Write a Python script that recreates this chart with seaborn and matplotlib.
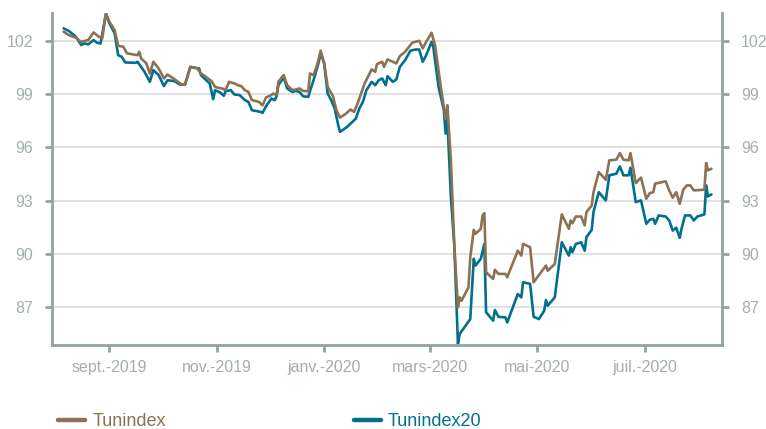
import pandas as pd
import matplotlib
matplotlib.use('Agg')
import matplotlib.pyplot as plt
import seaborn as sns

# ------------------------------------------------------------
# DATA
# ------------------------------------------------------------
tun20_dates = [
    "2019-08-06", "2019-08-09", "2019-08-13", "2019-08-16", "2019-08-18", "2019-08-20",
    "2019-08-23", "2019-08-25", "2019-08-27", "2019-08-30", "2019-09-01", "2019-09-04",
    "2019-09-06", "2019-09-08", "2019-09-10", "2019-09-16", "2019-09-17", "2019-09-19",
    "2019-09-21", "2019-09-24", "2019-09-26", "2019-09-29", "2019-10-02", "2019-10-04",
    "2019-10-08", "2019-10-11", "2019-10-14", "2019-10-17", "2019-10-22", "2019-10-23",
    "2019-10-24", "2019-10-28", "2019-10-30", "2019-10-31", "2019-11-03", "2019-11-05",
    "2019-11-06", "2019-11-09", "2019-11-11", "2019-11-14", "2019-11-17", "2019-11-19",
    "2019-11-21", "2019-11-26", "2019-11-27", "2019-11-29", "2019-12-02", "2019-12-04",
    "2019-12-05", "2019-12-06", "2019-12-09", "2019-12-11", "2019-12-14", "2019-12-16",
    "2019-12-18", "2019-12-20", "2019-12-23", "2019-12-24", "2019-12-26", "2019-12-29",
    "2019-12-30", "2020-01-01", "2020-01-03", "2020-01-05", "2020-01-07", "2020-01-09",
    "2020-01-10", "2020-01-14", "2020-01-17", "2020-01-19", "2020-01-21", "2020-01-23",
    "2020-01-25", "2020-01-28", "2020-01-30", "2020-02-01", "2020-02-03", "2020-02-05",
    "2020-02-06", "2020-02-09", "2020-02-11", "2020-02-13", "2020-02-16", "2020-02-19",
    "2020-02-22", "2020-02-24", "2020-02-26", "2020-02-28", "2020-03-02", "2020-03-03",
    "2020-03-06", "2020-03-09", "2020-03-10", "2020-03-11", "2020-03-13", "2020-03-15",
    "2020-03-17", "2020-03-18", "2020-03-24", "2020-03-26", "2020-03-27", "2020-03-30",
    "2020-04-01", "2020-04-02", "2020-04-06", "2020-04-07", "2020-04-09", "2020-04-13",
    "2020-04-14", "2020-04-20", "2020-04-22", "2020-04-23", "2020-04-27", "2020-04-29",
    "2020-05-02", "2020-05-05", "2020-05-06", "2020-05-07", "2020-05-11", "2020-05-15",
    "2020-05-19", "2020-05-20", "2020-05-21", "2020-05-23", "2020-05-26", "2020-05-28",
    "2020-05-29", "2020-06-01", "2020-06-02", "2020-06-05", "2020-06-09", "2020-06-11",
    "2020-06-15", "2020-06-17", "2020-06-19", "2020-06-22", "2020-06-23", "2020-06-26",
    "2020-06-29", "2020-07-02", "2020-07-04", "2020-07-06", "2020-07-07", "2020-07-09",
    "2020-07-13", "2020-07-15", "2020-07-17", "2020-07-19", "2020-07-21", "2020-07-22",
    "2020-07-24", "2020-07-27", "2020-07-29", "2020-07-31", "2020-08-04", "2020-08-05",
    "2020-08-06", "2020-08-08",
]
tun20_vals = [
    102.70, 102.55, 102.23, 101.76, 101.85, 101.80,
    102.04, 101.89, 101.85, 103.49, 102.98, 102.42,
    101.19, 101.10, 100.78, 100.76, 100.82, 100.53,
    100.25, 99.69, 100.35, 100.07, 99.45, 99.78,
    99.73, 99.54, 99.54, 100.53, 100.44, 100.07,
    99.97, 99.60, 98.71, 99.22, 99.09, 98.90,
    99.16, 99.22, 98.98, 98.94, 98.66, 98.56,
    98.09, 98.00, 97.94, 98.32, 98.75, 98.66,
    98.88, 99.50, 99.94, 99.32, 99.12, 99.18,
    99.12, 98.88, 98.84, 99.18, 99.78, 100.82,
    101.32, 100.73, 99.03, 98.66, 98.19, 97.25,
    96.87, 97.15, 97.43, 97.62, 98.19, 98.56,
    99.22, 99.69, 99.50, 99.78, 99.88, 99.50,
    100.01, 99.69, 99.82, 100.53, 100.91, 101.44,
    101.51, 101.51, 100.82, 101.19, 101.94, 101.66,
    99.41, 98.09, 96.78, 97.60, 93.20, 90.38,
    84.95, 85.50, 86.34, 89.73, 89.35, 89.73,
    90.57, 86.72, 86.25, 86.85, 86.47, 86.43,
    86.15, 87.75, 87.56, 88.41, 88.32, 86.47,
    86.34, 86.81, 87.41, 87.09, 87.56, 90.66,
    89.91, 90.38, 90.10, 90.57, 90.66, 90.19,
    90.95, 91.36, 92.36, 93.48, 93.02, 94.43,
    94.52, 94.93, 94.43, 94.43, 94.86, 92.92,
    93.02, 91.70, 91.93, 91.98, 91.70, 92.17,
    92.11, 91.89, 91.32, 91.48, 90.91, 91.42,
    92.17, 92.17, 91.89, 92.11, 92.23, 93.86,
    93.24, 93.35,
]

tun_dates = [
    "2019-08-06", "2019-08-09", "2019-08-13", "2019-08-16", "2019-08-20", "2019-08-23",
    "2019-08-26", "2019-08-28", "2019-08-30", "2019-09-01", "2019-09-04", "2019-09-06",
    "2019-09-09", "2019-09-11", "2019-09-17", "2019-09-18", "2019-09-19", "2019-09-22",
    "2019-09-24", "2019-09-26", "2019-09-29", "2019-10-02", "2019-10-04", "2019-10-08",
    "2019-10-12", "2019-10-14", "2019-10-17", "2019-10-21", "2019-10-23", "2019-10-25",
    "2019-10-29", "2019-10-31", "2019-11-02", "2019-11-04", "2019-11-06", "2019-11-08",
    "2019-11-11", "2019-11-13", "2019-11-15", "2019-11-17", "2019-11-19", "2019-11-21",
    "2019-11-25", "2019-11-27", "2019-11-29", "2019-12-02", "2019-12-03", "2019-12-05",
    "2019-12-06", "2019-12-09", "2019-12-11", "2019-12-14", "2019-12-16", "2019-12-18",
    "2019-12-20", "2019-12-23", "2019-12-24", "2019-12-26", "2019-12-28", "2019-12-30",
    "2020-01-01", "2020-01-03", "2020-01-06", "2020-01-08", "2020-01-10", "2020-01-13",
    "2020-01-16", "2020-01-18", "2020-01-20", "2020-01-24", "2020-01-28", "2020-01-30",
    "2020-01-31", "2020-02-03", "2020-02-04", "2020-02-06", "2020-02-09", "2020-02-11",
    "2020-02-13", "2020-02-16", "2020-02-20", "2020-02-24", "2020-02-26", "2020-02-28",
    "2020-03-02", "2020-03-04", "2020-03-07", "2020-03-10", "2020-03-11", "2020-03-13",
    "2020-03-15", "2020-03-17", "2020-03-18", "2020-03-19", "2020-03-23", "2020-03-24",
    "2020-03-26", "2020-03-27", "2020-03-30", "2020-03-31", "2020-04-01", "2020-04-02",
    "2020-04-06", "2020-04-07", "2020-04-09", "2020-04-13", "2020-04-14", "2020-04-20",
    "2020-04-22", "2020-04-23", "2020-04-27", "2020-04-29", "2020-05-04", "2020-05-06",
    "2020-05-07", "2020-05-11", "2020-05-15", "2020-05-19", "2020-05-20", "2020-05-21",
    "2020-05-23", "2020-05-26", "2020-05-28", "2020-05-29", "2020-06-01", "2020-06-02",
    "2020-06-05", "2020-06-09", "2020-06-11", "2020-06-15", "2020-06-17", "2020-06-19",
    "2020-06-22", "2020-06-23", "2020-06-26", "2020-06-29", "2020-07-02", "2020-07-04",
    "2020-07-06", "2020-07-07", "2020-07-13", "2020-07-15", "2020-07-17", "2020-07-19",
    "2020-07-21", "2020-07-23", "2020-07-25", "2020-07-27", "2020-07-29", "2020-08-04",
    "2020-08-05", "2020-08-06", "2020-08-08",
]
tun_vals = [
    102.51, 102.32, 102.17, 101.94, 102.04, 102.47,
    102.23, 102.14, 103.55, 103.07, 102.60, 101.72,
    101.66, 101.29, 101.19, 101.38, 101.01, 100.73,
    100.16, 100.82, 100.44, 99.88, 100.10, 99.84,
    99.54, 99.54, 100.53, 100.44, 100.16, 100.03,
    99.73, 99.41, 99.35, 99.32, 99.22, 99.69,
    99.60, 99.50, 99.44, 99.22, 99.12, 98.66,
    98.56, 98.37, 98.81, 98.94, 99.03, 98.94,
    99.69, 100.07, 99.50, 99.22, 99.26, 99.32,
    99.18, 99.16, 100.16, 100.07, 100.63, 101.44,
    100.76, 99.41, 98.88, 98.09, 97.68, 97.87,
    98.13, 98.00, 98.47, 99.60, 100.39, 100.25,
    100.69, 100.82, 100.53, 100.95, 100.82, 100.73,
    101.14, 101.38, 101.89, 102.00, 101.57, 101.94,
    102.45, 101.76, 99.60, 97.62, 98.37, 95.27,
    90.38, 87.00, 87.56, 87.37, 88.12, 89.82,
    91.36, 91.14, 91.42, 92.17, 92.30, 88.97,
    88.60, 89.11, 88.88, 88.88, 88.69, 90.19,
    89.91, 90.57, 90.38, 88.41, 89.08, 89.35,
    89.06, 89.44, 92.23, 91.42, 91.89, 91.73,
    92.11, 92.11, 91.61, 92.36, 92.73, 93.48,
    94.61, 94.18, 95.27, 95.31, 95.68, 95.31,
    95.27, 95.68, 93.99, 94.30, 93.11, 93.43,
    93.48, 93.96, 94.09, 93.58, 93.17, 93.48,
    92.83, 93.62, 93.86, 93.86, 93.58, 93.62,
    95.12, 94.71, 94.80,
]

series_names = ["Tunindex", "Tunindex20"]
tick_dates = ["2019-09-01", "2019-11-01", "2020-01-01", "2020-03-01", "2020-05-01", "2020-07-01"]
tick_labels = ["sept.-2019", "nov.-2019", "janv.-2020", "mars-2020", "mai-2020", "juil.-2020"]
y_ticks = [87, 90, 93, 96, 99, 102]

# ------------------------------------------------------------
# STYLE
# ------------------------------------------------------------
sns.set_style("white")
plt.rcParams['font.family'] = ['Liberation Sans', 'DejaVu Sans']

brown = '#8C7152'
teal = '#00708E'
axis_col = '#94A39E'
label_col = '#A3AFAB'
grid_col = '#D9D9D9'

df20 = pd.DataFrame({"date": pd.to_datetime(tun20_dates), "value": tun20_vals})
df = pd.DataFrame({"date": pd.to_datetime(tun_dates), "value": tun_vals})

fig = plt.figure(figsize=(7.66, 4.29), dpi=100)
ax = fig.add_axes([52 / 766, 1 - 345 / 429, (722 - 52) / 766, (345 - 12.7) / 429])

# teal drawn first so the brown line sits on top
sns.lineplot(data=df20, x="date", y="value", color=teal, lw=1.9, ax=ax,
             estimator=None, label=series_names[1])
sns.lineplot(data=df, x="date", y="value", color=brown, lw=1.9, ax=ax,
             estimator=None, label=series_names[0])

ax.set_xlim(pd.Timestamp("2019-07-30 10:00"), pd.Timestamp("2020-08-14"))
ax.set_ylim(84.88, 103.58)
ax.set_yticks(y_ticks)
ax.set_xticks(pd.to_datetime(tick_dates))
ax.set_xticklabels(tick_labels)
ax.set_xlabel("")
ax.set_ylabel("")

ax.yaxis.grid(True, color=grid_col, lw=1.1)
ax.xaxis.grid(False)
ax.set_axisbelow(True)

for side in ["left", "right", "bottom"]:
    ax.spines[side].set_visible(True)
    ax.spines[side].set_color(axis_col)
    ax.spines[side].set_linewidth(2)
ax.spines["top"].set_visible(False)

ax.tick_params(axis='y', which='both', left=True, right=True, labelleft=True,
               labelright=True, length=5, width=2, color=axis_col,
               labelcolor=label_col, labelsize=11.5, pad=8.5)
ax.tick_params(axis='x', bottom=True, length=5, width=2, color=axis_col,
               labelcolor=label_col, labelsize=11.5, pad=6)

# legend along the bottom, brown first
handles, labels = ax.get_legend_handles_labels()
order = [labels.index(n) for n in series_names]
leg = ax.legend([handles[i] for i in order], [labels[i] for i in order],
                loc='center left', bbox_to_anchor=(49 / 766, 7 / 429),
                bbox_transform=fig.transFigure, ncol=2, frameon=False,
                borderpad=0, handlelength=1.5, handletextpad=0.4,
                columnspacing=10.4, prop={'size': 13})
for line in leg.get_lines():
    line.set_linewidth(3.2)
for txt, col in zip(leg.get_texts(), [brown, teal]):
    txt.set_color(col)

plt.savefig("out.png", dpi=100)
plt.close()
